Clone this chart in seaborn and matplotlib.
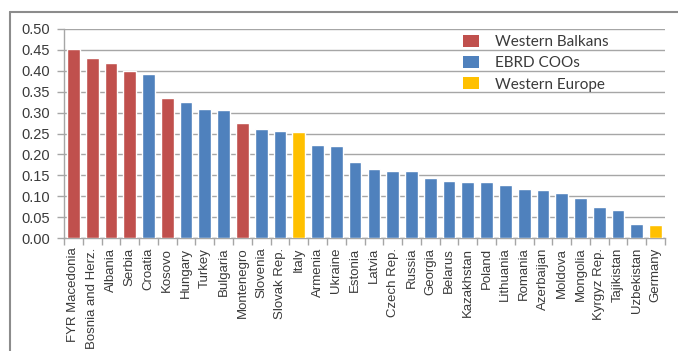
import numpy as np
import pandas as pd
import matplotlib.pyplot as plt
from matplotlib.lines import Line2D
from matplotlib.patches import Patch
import seaborn as sns

# values
countries = [
    "FYR Macedonia", "Bosnia and Herz.", "Albania", "Serbia", "Croatia", "Kosovo",
    "Hungary", "Turkey", "Bulgaria", "Montenegro", "Slovenia", "Slovak Rep.", "Italy",
    "Armenia", "Ukraine", "Estonia", "Latvia", "Czech Rep.", "Russia", "Georgia",
    "Belarus", "Kazakhstan", "Poland", "Lithuania", "Romania", "Azerbaijan", "Moldova",
    "Mongolia", "Kyrgyz Rep.", "Tajikistan", "Uzbekistan", "Germany",
]
values = [
    0.451, 0.431, 0.418, 0.400, 0.392, 0.335, 0.325, 0.308, 0.306, 0.276, 0.260,
    0.255, 0.253, 0.222, 0.220, 0.182, 0.166, 0.161, 0.160, 0.143, 0.137, 0.134,
    0.134, 0.126, 0.118, 0.116, 0.108, 0.095, 0.075, 0.067, 0.034, 0.030,
]
WB, EB, WE = "Western Balkans", "EBRD COOs", "Western Europe"
groups = [
    WB, WB, WB, WB, EB, WB, EB, EB, EB, WB, EB, EB, WE, EB, EB, EB, EB, EB, EB, EB,
    EB, EB, EB, EB, EB, EB, EB, EB, EB, EB, EB, WE,
]
group_order = [WB, EB, WE]
group_colors = {WB: "#C0504D", EB: "#4F81BD", WE: "#FFC000"}

df = pd.DataFrame({"Country": countries, "Value": values, "Group": groups})

sns.set_style("white")
plt.rcParams["font.family"] = ["Liberation Sans", "DejaVu Sans"]

W, H = 678, 351
fig = plt.figure(figsize=(W / 100, H / 100), dpi=100)
ax = fig.add_axes([64 / W, (H - 238) / H, (665 - 64) / W, (238 - 29) / H])

sns.barplot(data=df, x="Country", y="Value", hue="Group", hue_order=group_order,
            palette=group_colors, dodge=False, width=0.68, saturation=1,
            legend=False, ax=ax, zorder=3)

grid_col = "#A6A6A6"
ax.set_xlim(-0.5, len(countries) - 0.5)
ax.set_ylim(0, 0.5)
ax.set_yticks(np.arange(0, 0.501, 0.05))
ax.set_yticklabels([f"{t:.2f}" for t in np.arange(0, 0.501, 0.05)])
ax.yaxis.grid(True, color=grid_col, linewidth=1, zorder=0)
ax.set_axisbelow(True)
ax.set_xlabel("")
ax.set_ylabel("")

for s in ["top", "right"]:
    ax.spines[s].set_visible(False)
for s in ["left", "bottom"]:
    ax.spines[s].set_color(grid_col)
    ax.spines[s].set_linewidth(1)

ax.tick_params(axis="y", length=5, color=grid_col, width=1, pad=5,
               labelsize=10.5, labelcolor="#3A3A3A", left=True)
ax.set_xticks(np.arange(-0.5, len(countries), 1), minor=True)
ax.tick_params(axis="x", which="minor", length=5, color=grid_col, width=1, bottom=True)
ax.tick_params(axis="x", which="major", length=0, pad=7,
               labelsize=9.5, labelcolor="#3A3A3A", labelrotation=90)

handles = [Patch(facecolor=group_colors[g], edgecolor="none", label=g) for g in group_order]
leg = fig.legend(handles=handles, loc="upper left", bbox_to_anchor=(455 / W, 1 - 27 / H),
                 frameon=False, borderpad=0, handlelength=1.1, handleheight=0.85,
                 handletextpad=1.05, labelspacing=0.45,
                 prop={"family": "Lato", "size": 11})
for t in leg.get_texts():
    t.set_color("#3A3A3A")

# outer chart frame (top and left edges are visible in the picture)
frame_col = "#8C8C8C"
fig.add_artist(Line2D([10 / W, 1], [1 - 12 / H, 1 - 12 / H], color=frame_col, linewidth=1.5))
fig.add_artist(Line2D([10 / W, 10 / W], [0, 1 - 12 / H], color=frame_col, linewidth=1.5))

fig.savefig("out.png", dpi=100)
